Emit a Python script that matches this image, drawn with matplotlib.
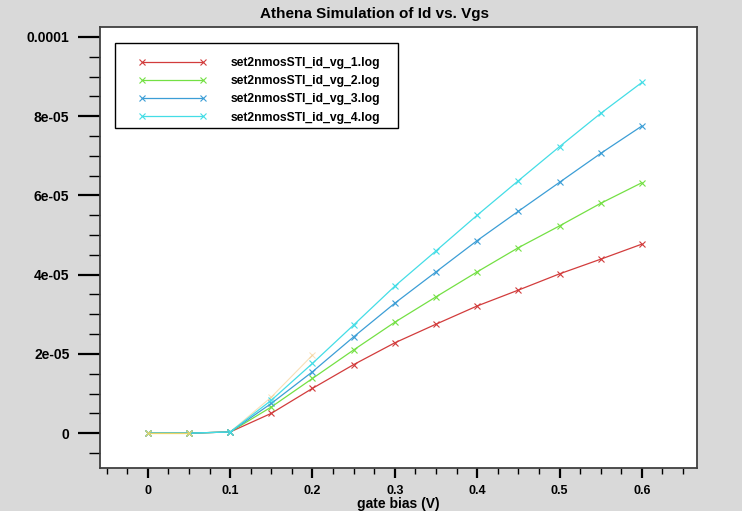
import numpy as np
import matplotlib
matplotlib.use('Agg')
import matplotlib.pyplot as plt
from matplotlib.patches import Rectangle
from matplotlib.ticker import MultipleLocator, FixedLocator, FixedFormatter

# tensao de porta (V)
vgs = [0.0, 0.05, 0.1, 0.15, 0.2, 0.25, 0.3, 0.35, 0.4, 0.45, 0.5, 0.55, 0.6]

# corrente de dreno (A) para cada arquivo
id_vg_1 = [0, 0, 3e-7, 5.0e-6, 1.13e-5, 1.73e-5, 2.28e-5, 2.75e-5, 3.21e-5, 3.61e-5, 4.02e-5, 4.39e-5, 4.77e-5]
id_vg_2 = [0, 0, 3e-7, 6.6e-6, 1.38e-5, 2.10e-5, 2.80e-5, 3.44e-5, 4.07e-5, 4.68e-5, 5.23e-5, 5.80e-5, 6.32e-5]
id_vg_3 = [0, 0, 3e-7, 7.5e-6, 1.55e-5, 2.43e-5, 3.28e-5, 4.07e-5, 4.86e-5, 5.60e-5, 6.33e-5, 7.06e-5, 7.75e-5]
id_vg_4 = [0, 0, 3e-7, 8.3e-6, 1.76e-5, 2.73e-5, 3.71e-5, 4.60e-5, 5.50e-5, 6.37e-5, 7.23e-5, 8.07e-5, 8.85e-5]

# curva extra (laranja) sem legenda
vgs_extra = [0.0, 0.05, 0.1, 0.15, 0.2]
id_extra = [0, 0, 3e-7, 9.1e-6, 1.97e-5]

nomes = ['set2nmosSTI_id_vg_1.log', 'set2nmosSTI_id_vg_2.log',
         'set2nmosSTI_id_vg_3.log', 'set2nmosSTI_id_vg_4.log']
cores = ['#d23c3c', '#74e044', '#3c9ed6', '#44dde6']

y_ticks = [0, 2e-5, 4e-5, 6e-5, 8e-5, 1e-4]
y_labels = ['0', '2e-05', '4e-05', '6e-05', '8e-05', '0.0001']
x_ticks = [0, 0.1, 0.2, 0.3, 0.4, 0.5, 0.6]
x_labels = ['0', '0.1', '0.2', '0.3', '0.4', '0.5', '0.6']

plt.rcParams['font.family'] = ['Liberation Sans', 'DejaVu Sans']
plt.rcParams['font.weight'] = 'bold'

fig = plt.figure(figsize=(7.42, 5.11), dpi=100, facecolor='#d9d9d9')
ax = fig.add_axes([0.1348, 0.0841, 0.8046, 0.8631])
ax.set_facecolor('white')

# curva laranja: parte visivel em zero e parte apagada na subida
ax.plot(vgs_extra[:2], id_extra[:2], color='#e8d468', lw=0.9, marker='x', ms=5, mew=0.8, zorder=3)
ax.plot(vgs_extra[1:], id_extra[1:], color='#f0c070', lw=0.8, marker='x', ms=5, mew=0.7, alpha=0.5, zorder=1)

serie = [id_vg_1, id_vg_2, id_vg_3, id_vg_4]
for dados, nome, cor in zip(serie, nomes, cores):
    ax.plot(vgs, dados, color=cor, lw=0.9, marker='x', ms=5, mew=0.8, label=nome, zorder=2)

ax.set_xlim(-0.058, 0.667)
ax.set_ylim(-8.8e-6, 1.025e-4)

ax.yaxis.set_major_locator(FixedLocator(y_ticks))
ax.yaxis.set_major_formatter(FixedFormatter(y_labels))
ax.yaxis.set_minor_locator(MultipleLocator(5e-6))
ax.xaxis.set_major_locator(FixedLocator(x_ticks))
ax.xaxis.set_major_formatter(FixedFormatter(x_labels))
ax.xaxis.set_minor_locator(MultipleLocator(0.025))

ax.tick_params(axis='y', which='major', direction='out', length=16, width=1.6, pad=6, labelsize=10)
ax.tick_params(axis='y', which='minor', direction='out', length=8, width=1.0)
ax.tick_params(axis='x', which='major', direction='out', length=7, width=1.6, pad=5, labelsize=9)
ax.tick_params(axis='x', which='minor', direction='out', length=4, width=1.0)
for lab in ax.get_xticklabels() + ax.get_yticklabels():
    lab.set_fontweight('bold')

for s in ax.spines.values():
    s.set_color('#404040')
    s.set_linewidth(1.3)

fig.suptitle('Athena Simulation of Id vs. Vgs', x=0.505, y=0.972, va='center',
             fontsize=11, fontweight='bold')
ax.set_xlabel('gate bias (V)', fontsize=10, fontweight='bold', labelpad=0)

# legenda sem moldura + moldura desenhada a parte
leg = ax.legend(loc='upper left', bbox_to_anchor=(0.0637, 0.931), numpoints=2,
                handlelength=5.7, handletextpad=2.0, labelspacing=0.5,
                borderpad=0, borderaxespad=0, frameon=False,
                prop={'weight': 'bold', 'size': 8.7})
ax.add_patch(Rectangle((0.0251, 0.771), 0.474, 0.1927, transform=ax.transAxes,
                       fill=False, edgecolor='black', lw=1.0, zorder=5))

plt.savefig('out.png', dpi=100, facecolor=fig.get_facecolor())
